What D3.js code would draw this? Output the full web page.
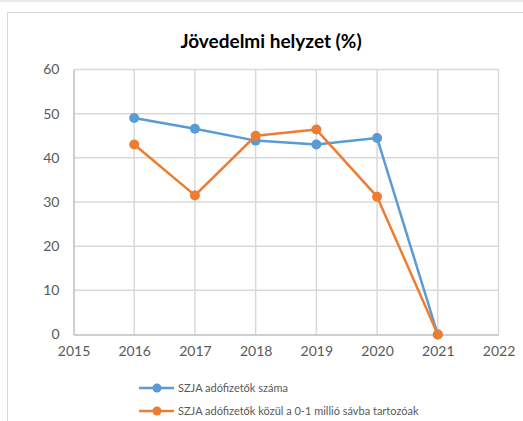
<!DOCTYPE html>
<html>
<head>
<meta charset="utf-8">
<script src="https://cdn.jsdelivr.net/npm/d3@7"></script>
<style>
  body { margin: 0; background: #fff; overflow: hidden; }
  svg { display: block; }
</style>
</head>
<body>
<div id="chart"></div>
<script>
// Jövedelmi helyzet (%) - two series, 2016-2021
var years = [2016, 2017, 2018, 2019, 2020, 2021];
var szjaAll = [49.0, 46.6, 43.9, 43.0, 44.5, 0];
var szjaLow = [43.0, 31.5, 45.0, 46.4, 31.2, 0];
var seriesNames = ["SZJA adófizetők száma", "SZJA adófizetők közül a 0-1 millió sávba tartozóak"];
var seriesColors = ["#5B9BD5", "#ED7D31"];
var yTicks = [0, 10, 20, 30, 40, 50, 60];
var xTicks = [2015, 2016, 2017, 2018, 2019, 2020, 2021, 2022];

var width = 523, height = 421;
var font = "Lato, 'Open Sans', sans-serif";

var svg = d3.select("#chart").append("svg")
  .attr("width", width)
  .attr("height", height);

// edge of the sheet above the chart
svg.append("line")
  .attr("x1", 0).attr("x2", width)
  .attr("y1", 1).attr("y2", 1)
  .attr("stroke", "#e3e3e3").attr("stroke-width", 1.5);

// chart frame
svg.append("rect")
  .attr("x", 7.5).attr("y", 12.5)
  .attr("width", 530).attr("height", 430)
  .attr("fill", "#fff")
  .attr("stroke", "#d9d9d9");

var x = d3.scaleLinear().domain([2015, 2022]).range([73.5, 498.5]);
var y = d3.scaleLinear().domain([0, 60]).range([334.5, 69.5]);

// title
svg.append("text")
  .attr("x", 271).attr("y", 48)
  .attr("text-anchor", "middle")
  .attr("font-family", font)
  .attr("font-weight", "bold")
  .attr("font-size", 19)
  .attr("fill", "#000")
  .text("Jövedelmi helyzet (%)");

// gridlines
svg.append("g").selectAll("line.h")
  .data(yTicks.slice(1))
  .join("line")
  .attr("x1", x(2015)).attr("x2", x(2022))
  .attr("y1", function (d) { return y(d); })
  .attr("y2", function (d) { return y(d); })
  .attr("stroke", "#d9d9d9").attr("stroke-width", 1.5);

svg.append("g").selectAll("line.v")
  .data(xTicks.slice(1))
  .join("line")
  .attr("x1", function (d) { return x(d); })
  .attr("x2", function (d) { return x(d); })
  .attr("y1", y(60)).attr("y2", y(0))
  .attr("stroke", "#d9d9d9").attr("stroke-width", 1.5);

// axes
var yAxis = d3.axisLeft(y).tickValues(yTicks).tickSize(0).tickPadding(14);
var xAxis = d3.axisBottom(x).tickValues(xTicks).tickSize(0).tickPadding(12).tickFormat(d3.format("d"));

var gy = svg.append("g").attr("transform", "translate(" + x(2015) + ",0)").call(yAxis);
var gx = svg.append("g").attr("transform", "translate(0," + y(0) + ")").call(xAxis);

[gx, gy].forEach(function (g) {
  g.select(".domain").attr("stroke", "#bfbfbf").attr("stroke-width", 1.5);
  g.selectAll("text")
    .attr("font-family", font)
    .attr("font-size", 14)
    .attr("fill", "#595959");
});

// series
var line = d3.line()
  .x(function (d, i) { return x(years[i]); })
  .y(function (d) { return y(d); });

[szjaAll, szjaLow].forEach(function (vals, k) {
  var g = svg.append("g");
  g.append("path")
    .attr("d", line(vals))
    .attr("fill", "none")
    .attr("stroke", seriesColors[k])
    .attr("stroke-width", 2.5)
    .attr("stroke-linejoin", "round");
  g.selectAll("circle")
    .data(vals)
    .join("circle")
    .attr("cx", function (d, i) { return x(years[i]); })
    .attr("cy", function (d) { return y(d); })
    .attr("r", 5)
    .attr("fill", seriesColors[k]);
});

// legend
var legend = svg.append("g").selectAll("g")
  .data(seriesNames)
  .join("g")
  .attr("transform", function (d, i) { return "translate(139," + (388 + i * 23) + ")"; });

legend.append("line")
  .attr("x1", 0).attr("x2", 35)
  .attr("stroke", function (d, i) { return seriesColors[i]; })
  .attr("stroke-width", 2.5);
legend.append("circle")
  .attr("cx", 18).attr("r", 4.5)
  .attr("fill", function (d, i) { return seriesColors[i]; });
legend.append("text")
  .attr("x", 39).attr("dy", "0.35em")
  .attr("font-family", font)
  .attr("font-size", 11)
  .attr("fill", "#595959")
  .text(function (d) { return d; });
</script>
</body>
</html>
